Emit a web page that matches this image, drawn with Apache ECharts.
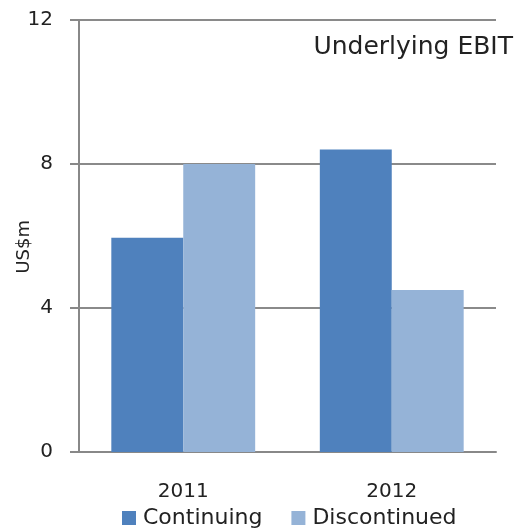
<!DOCTYPE html>
<html>
<head>
<meta charset="utf-8">
<script src="https://cdn.jsdelivr.net/npm/echarts@6/dist/echarts.min.js"></script>
<style>
  html, body { margin: 0; padding: 0; background: #fff; }
  #chart { width: 521px; height: 528px; }
</style>
</head>
<body>
<div id="chart"></div>
<script>
// Underlying EBIT by year, split into continuing and discontinued operations (US$m)
const years = ['2011', '2012'];
const continuing = [5.95, 8.4];
const discontinued = [8.0, 4.5];
const yTicks = { min: 0, max: 12, step: 4 };

const font = '"DejaVu Sans", Verdana, sans-serif';
const chart = echarts.init(document.getElementById('chart'), null, { renderer: 'canvas' });

chart.setOption({
  animation: false,
  backgroundColor: '#ffffff',
  title: {
    text: 'Underlying EBIT',
    right: 3,
    top: 30,
    textStyle: { fontFamily: font, fontSize: 25, fontWeight: 'normal', color: '#222' }
  },
  grid: { left: 79, right: 25, top: 20, bottom: 76 },
  legend: {
    bottom: -6,
    left: 117,
    itemWidth: 14,
    itemHeight: 14,
    itemGap: 29,
    icon: 'rect',
    textStyle: { fontFamily: font, fontSize: 22, color: '#222', padding: [0, 0, 0, 2] },
    data: ['Continuing', 'Discontinued']
  },
  graphic: [{
    type: 'text',
    left: 15,
    top: 220,
    rotation: Math.PI / 2,
    style: { text: 'US$m', font: '18px ' + font, fill: '#222' }
  }],
  xAxis: {
    type: 'category',
    data: years,
    axisLine: { lineStyle: { color: '#888', width: 2 } },
    axisTick: { show: false },
    axisLabel: { fontFamily: font, fontSize: 20, color: '#222', margin: 30 }
  },
  yAxis: {
    type: 'value',
    min: yTicks.min,
    max: yTicks.max,
    interval: yTicks.step,
    axisLine: { show: true, lineStyle: { color: '#888', width: 2 } },
    axisTick: { show: true, length: 9, lineStyle: { color: '#888', width: 2 } },
    axisLabel: { fontFamily: font, fontSize: 20, color: '#222', margin: 26 },
    splitLine: { show: true, lineStyle: { color: '#8a8a8a', width: 2 } }
  },
  series: [
    {
      name: 'Continuing',
      type: 'bar',
      data: continuing,
      barGap: '0%',
      barCategoryGap: '31%',
      itemStyle: { color: '#4F81BD' }
    },
    {
      name: 'Discontinued',
      type: 'bar',
      data: discontinued,
      itemStyle: { color: '#95B3D7' }
    }
  ]
});
</script>
</body>
</html>
